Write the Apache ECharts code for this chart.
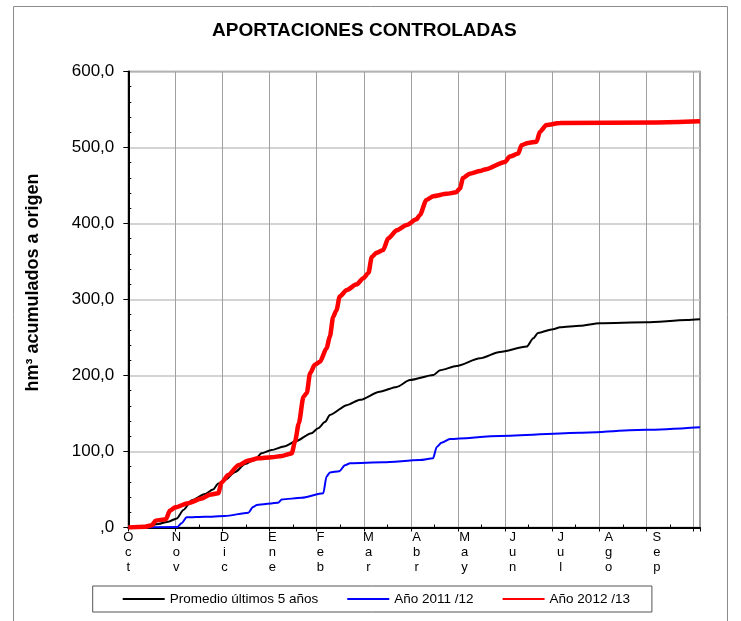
<!DOCTYPE html>
<html>
<head>
<meta charset="utf-8">
<script src="https://cdn.jsdelivr.net/npm/echarts@6/dist/echarts.min.js"></script>
<style>
  html, body { margin: 0; padding: 0; background: #fff; }
  #chart { width: 741px; height: 621px; }
</style>
</head>
<body>
<div id="chart"></div>
<script>
// Hydrological year, Oct -> Sep; x is measured in months from 1 October
const months = ['Oct', 'Nov', 'Dic', 'Ene', 'Feb', 'Mar', 'Abr', 'May', 'Jun', 'Jul', 'Ago', 'Sep'];
const yTickLabels = [',0', '100,0', '200,0', '300,0', '400,0', '500,0', '600,0'];

// Accumulated inflows (hm3)
const promedioX = [0, 0.35, 0.64, 0.85, 1.03, 1.17, 1.35, 1.63, 1.8, 1.91, 2.05, 2.27, 2.48, 2.69, 2.83, 3.04, 3.33, 3.54, 3.89, 4.03, 4.18, 4.28, 4.64, 4.92, 5.34, 5.7, 5.98, 6.48, 6.62, 6.97, 7.47, 7.89, 8.46, 8.6, 8.7, 9.02, 9.17, 9.59, 10.01, 11.0, 11.86, 12.14];
const promedioY = [0, 1, 4.6, 7.7, 12, 23, 36, 44, 50, 58, 62.5, 73, 83.5, 89.7, 97.6, 102, 107, 113, 124, 130.5, 139, 148, 161, 168, 178.7, 185, 194, 200.6, 207, 212.5, 222.6, 231, 238, 249, 256, 261, 263.4, 265.5, 268.7, 270, 273, 274];

const y2011X = [0, 1.04, 1.13, 1.24, 1.63, 2.05, 2.55, 2.65, 2.73, 3.18, 3.26, 3.68, 4.14, 4.21, 4.28, 4.48, 4.6, 4.71, 5.41, 6.19, 6.47, 6.55, 6.65, 6.83, 7.89, 9.59, 11.0, 12.14];
const y2011Y = [0, 0.5, 5.5, 13.4, 14.2, 15, 19.5, 27, 29.6, 32.6, 37, 39, 45, 67, 72.5, 74, 82, 84.5, 85.8, 88.8, 91, 106, 111.6, 116.5, 120.4, 124.7, 128.5, 132];

const y2012X = [0, 0.35, 0.5, 0.58, 0.8, 0.88, 1.0, 1.27, 1.56, 1.73, 1.91, 1.98, 2.12, 2.34, 2.55, 2.76, 3.04, 3.26, 3.47, 3.54, 3.62, 3.72, 3.79, 3.86, 3.96, 4.07, 4.21, 4.28, 4.35, 4.42, 4.49, 4.64, 4.85, 4.99, 5.1, 5.17, 5.27, 5.41, 5.52, 5.7, 5.91, 6.12, 6.19, 6.33, 6.48, 6.76, 6.96, 7.04, 7.11, 7.25, 7.47, 7.57, 8.0, 8.1, 8.28, 8.35, 8.49, 8.67, 8.74, 8.88, 9.17, 11.22, 12.14];
const y2012Y = [0, 1, 3, 9, 11, 22, 26.5, 32, 38, 43, 45, 59, 69, 82, 88, 91, 92.5, 94, 97.5, 113, 137, 172, 177, 203, 214, 218, 236, 251, 277, 286, 304, 312.5, 320, 328, 335, 356, 361.5, 365, 380.5, 391, 398, 405.5, 411, 431, 436, 439, 441, 446, 460, 465.5, 469, 471, 481, 488, 492, 503, 506, 507.6, 520.8, 529.6, 532.4, 533, 534.5];

const seriesNames = ['Promedio últimos 5 años', 'Año 2011 /12', 'Año 2012 /13'];

const X_MAX = 12.14;      // plotted span in months
const LABEL_MAX = 11.9;   // month labels sit on a slightly wider pitch
const FONT = '"Liberation Sans", Arial, sans-serif';

const zip = (xs, ys) => xs.map((x, i) => [x, ys[i]]);

const chart = echarts.init(document.getElementById('chart'), null, { renderer: 'canvas' });

const baseX = { type: 'value', min: 0, max: X_MAX, interval: 1, position: 'bottom', gridIndex: 0 };
const baseY = { type: 'value', min: 0, max: 600, interval: 100, position: 'left', gridIndex: 0 };

chart.setOption({
  animation: false,
  backgroundColor: '#fff',
  textStyle: { fontFamily: FONT },
  title: {
    text: 'APORTACIONES CONTROLADAS',
    left: 212,
    top: 21,
    padding: 0,
    textStyle: { fontFamily: FONT, fontSize: 19, fontWeight: 'bold', color: '#000' }
  },
  graphic: [{
    type: 'rect',
    shape: { x: 13.5, y: 6.5, width: 714, height: 640 },
    style: { fill: 'none', stroke: '#8c8c8c', lineWidth: 1 },
    silent: true,
    z: -1
  }],
  grid: {
    left: 128.3, right: 41, top: 71.5, bottom: 93.5,
    show: true, borderColor: '#808080', borderWidth: 1.5, backgroundColor: 'transparent'
  },
  legend: {
    data: seriesNames,
    left: 92.7,
    top: 586,
    orient: 'horizontal',
    padding: [6, 22, 6, 29],
    itemGap: 28,
    itemWidth: 42,
    itemHeight: 14,
    borderColor: '#555',
    borderWidth: 1,
    itemStyle: { opacity: 0 },
    textStyle: { fontFamily: FONT, fontSize: 13.5, color: '#000', padding: [0, 0, 0, 0] }
  },
  xAxis: [
    Object.assign({}, baseX, {
      axisLine: { show: true, onZero: false, lineStyle: { color: '#000', width: 2 } },
      axisTick: { show: true, length: 4, lineStyle: { color: '#000', width: 1 } },
      axisLabel: { show: false },
      splitLine: { show: true, lineStyle: { color: '#a0a0a0', width: 1 } },
      z: 3
    }),
    Object.assign({}, baseX, {
      axisLine: { show: false, onZero: false },
      axisTick: { show: false, inside: true },
      minorTick: { show: true, splitNumber: 2, length: 3, lineStyle: { color: '#000', width: 1 } },
      axisLabel: { show: false },
      splitLine: { show: false }
    }),
    {
      type: 'value', min: 0, max: LABEL_MAX, interval: 1, position: 'bottom', gridIndex: 0,
      axisLine: { show: false, onZero: false },
      axisTick: { show: false },
      splitLine: { show: false },
      axisLabel: {
        show: true,
        margin: 2,
        fontFamily: FONT,
        fontSize: 13,
        lineHeight: 15,
        color: '#000',
        formatter: v => (Number.isInteger(v) && months[v]) ? months[v].split('').join('\n') : ''
      }
    }
  ],
  yAxis: [
    Object.assign({}, baseY, {
      name: 'hm³ acumulados a origen',
      nameLocation: 'middle',
      nameGap: 86,
      nameMoveOverlap: false,
      nameRotate: 90,
      nameTextStyle: { fontFamily: FONT, fontSize: 18, fontWeight: 'bold', color: '#000', padding: [0, 0, 0, 34] },
      axisLine: { show: true, onZero: false, lineStyle: { color: '#000', width: 2 } },
      axisTick: { show: true, length: 5, lineStyle: { color: '#000', width: 1 } },
      axisLabel: {
        margin: 14,
        fontFamily: FONT,
        fontSize: 17,
        color: '#000',
        formatter: v => yTickLabels[Math.round(v / 100)]
      },
      splitLine: { show: true, lineStyle: { color: '#c4c4c4', width: 1.5 } },
      z: 3
    }),
    Object.assign({}, baseY, {
      axisLine: { show: false, onZero: false },
      axisTick: { show: false, inside: true },
      minorTick: { show: true, splitNumber: 5, length: 3, lineStyle: { color: '#000', width: 1 } },
      axisLabel: { show: false },
      splitLine: { show: false }
    })
  ],
  series: [
    {
      name: seriesNames[0], type: 'line', xAxisIndex: 0, yAxisIndex: 0,
      data: zip(promedioX, promedioY),
      symbol: 'none', smooth: 0.25, smoothMonotone: 'x',
      lineStyle: { color: '#000', width: 2 }, itemStyle: { color: '#000' }, z: 4
    },
    {
      name: seriesNames[1], type: 'line', xAxisIndex: 0, yAxisIndex: 0,
      data: zip(y2011X, y2011Y),
      symbol: 'none', smooth: 0.25, smoothMonotone: 'x',
      lineStyle: { color: '#0000ff', width: 2 }, itemStyle: { color: '#0000ff' }, z: 5
    },
    {
      name: seriesNames[2], type: 'line', xAxisIndex: 0, yAxisIndex: 0,
      data: zip(y2012X, y2012Y),
      symbol: 'none', smooth: 0.25, smoothMonotone: 'x',
      lineStyle: { color: '#ff0000', width: 4.5 }, itemStyle: { color: '#ff0000' }, z: 6
    }
  ]
});
</script>
</body>
</html>
